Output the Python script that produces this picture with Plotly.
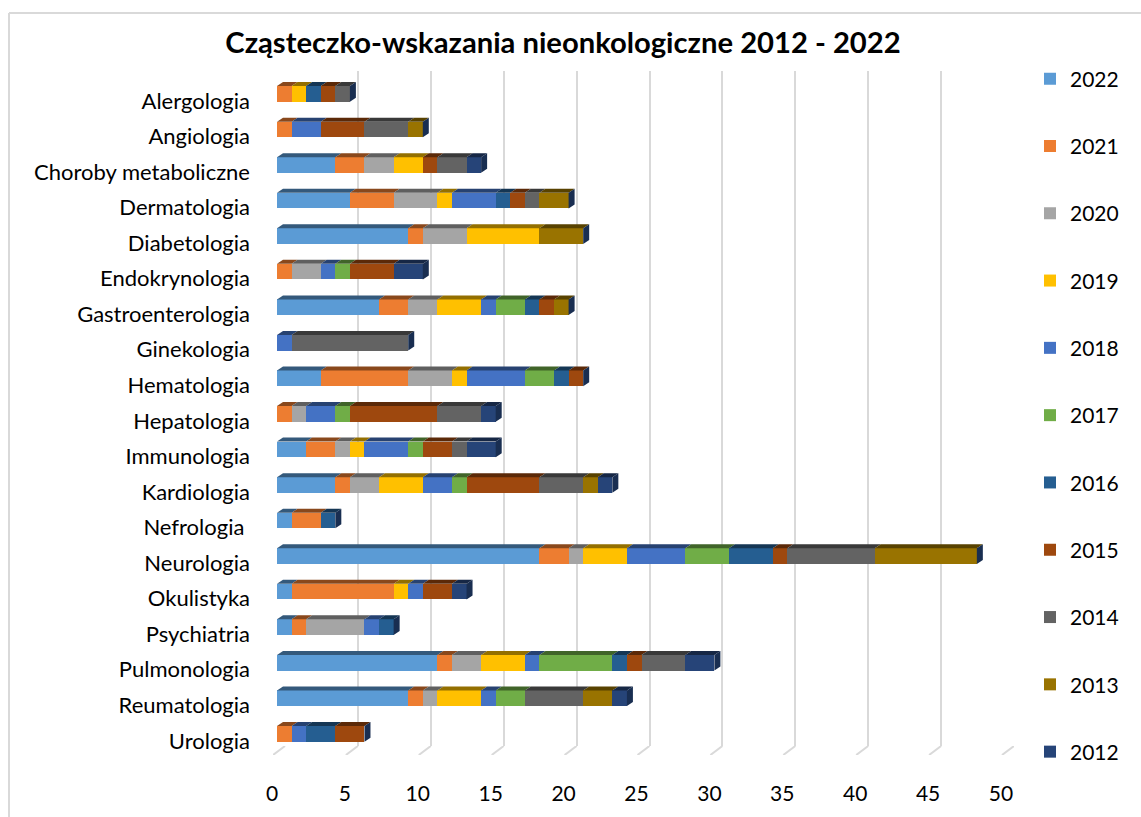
import plotly.graph_objects as go

categories = ["Alergologia", "Angiologia", "Choroby metaboliczne", "Dermatologia", "Diabetologia",
              "Endokrynologia", "Gastroenterologia", "Ginekologia", "Hematologia", "Hepatologia",
              "Immunologia", "Kardiologia", "Nefrologia ", "Neurologia", "Okulistyka", "Psychiatria",
              "Pulmonologia", "Reumatologia", "Urologia"]

y2022 = [0, 0, 4, 5, 9, 0, 7, 0, 3, 0, 2, 4, 1, 18, 1, 1, 11, 9, 0]
y2021 = [1, 1, 2, 3, 1, 1, 2, 0, 6, 1, 2, 1, 2, 2, 7, 1, 1, 1, 1]
y2020 = [0, 0, 2, 3, 3, 2, 2, 0, 3, 1, 1, 2, 0, 1, 0, 4, 2, 1, 0]
y2019 = [1, 0, 2, 1, 5, 0, 3, 0, 1, 0, 1, 3, 0, 3, 1, 0, 3, 3, 0]
y2018 = [0, 2, 0, 3, 0, 1, 1, 1, 4, 2, 3, 2, 0, 4, 1, 1, 1, 1, 1]
y2017 = [0, 0, 0, 0, 0, 1, 2, 0, 2, 1, 1, 1, 0, 3, 0, 0, 5, 2, 0]
y2016 = [1, 0, 0, 1, 0, 0, 1, 0, 1, 0, 0, 0, 1, 3, 0, 1, 1, 0, 2]
y2015 = [1, 3, 1, 1, 0, 3, 1, 0, 1, 6, 2, 5, 0, 1, 2, 0, 1, 0, 2]
y2014 = [1, 3, 2, 1, 0, 0, 0, 8, 0, 3, 1, 3, 0, 6, 0, 0, 3, 4, 0]
y2013 = [0, 1, 0, 2, 3, 0, 1, 0, 0, 0, 0, 1, 0, 7, 0, 0, 0, 2, 0]
y2012 = [0, 0, 1, 0, 0, 2, 0, 0, 0, 1, 2, 1, 0, 0, 1, 0, 2, 1, 0]

years = ["2022", "2021", "2020", "2019", "2018", "2017", "2016", "2015", "2014", "2013", "2012"]
values = [y2022, y2021, y2020, y2019, y2018, y2017, y2016, y2015, y2014, y2013, y2012]
colors = ["#5B9BD5", "#ED7D31", "#A5A5A5", "#FFC000", "#4472C4", "#70AD47",
          "#255E91", "#9E480E", "#636363", "#997300", "#264478"]
tick_vals = [0, 5, 10, 15, 20, 25, 30, 35, 40, 45, 50]

W, H = 1141, 817
FONT = "Lato"
X0, UNIT = 277.0, 14.58
GRID_X0 = 285.0
WALL_TOP, WALL_BOTTOM = 71.0, 746.0
FLOOR_RUN, FLOOR_DROP = 12.0, 9.0
ROW0, PITCH = 93.9, 35.55
BAR = 0.44
DX, DY = 6 / UNIT, 4 / PITCH


def xdom(left):
    return [left / W, (left + 50 * UNIT) / W]


def ydom(top, bottom):
    return [1 - bottom / H, 1 - top / H]


def shade(hex_color, f=0.58):
    r, g, b = (int(hex_color[i:i + 2], 16) for i in (1, 3, 5))
    return f"rgb({int(r * f)},{int(g * f)},{int(b * f)})"


rows = list(range(len(categories)))
fig = go.Figure()

# invisible traces that bring the grid axis and the label axes into the page
fig.add_trace(go.Scatter(x=[0], y=[0], xaxis="x", yaxis="y", mode="markers", opacity=0,
                         showlegend=False, hoverinfo="skip"))
fig.add_trace(go.Scatter(x=[0], y=[0], xaxis="x3", yaxis="y3", mode="markers", opacity=0,
                         showlegend=False, hoverinfo="skip"))

# front faces
for year, vals, col in zip(years, values, colors):
    fig.add_trace(go.Bar(name=year, y=rows, x=vals, orientation="h", width=BAR,
                         xaxis="x2", yaxis="y2",
                         marker=dict(color=col, line=dict(width=0)),
                         legendgroup=year))

# top faces, right caps
running = [0] * len(rows)
for year, vals, col in zip(years, values, colors):
    px, py = [], []
    for i, v in enumerate(vals):
        if v > 0:
            a, b = running[i], running[i] + v
            t = i - BAR / 2
            px += [a, b, b + DX, a + DX, a, None]
            py += [t, t, t - DY, t - DY, t, None]
        running[i] += v
    fig.add_trace(go.Scatter(x=px, y=py, xaxis="x2", yaxis="y2", mode="lines", fill="toself",
                             fillcolor=shade(col), line=dict(width=0), showlegend=False, hoverinfo="skip"))
px, py = [], []
for i, tot in enumerate(running):
    t, b = i - BAR / 2, i + BAR / 2
    px += [tot, tot + DX, tot + DX, tot, tot, None]
    py += [t, t - DY, b - DY, b, t, None]
fig.add_trace(go.Scatter(x=px, y=py, xaxis="x2", yaxis="y2", mode="lines", fill="toself",
                         fillcolor=shade(colors[-1], 0.68), line=dict(width=0),
                         showlegend=False, hoverinfo="skip"))

# floor ticks at the foot of the back wall, in a thin strip of their own
floor_x, floor_y = [], []
for v in tick_vals:
    floor_x += [v, v - FLOOR_RUN / UNIT, None]
    floor_y += [0, 1, None]
fig.add_trace(go.Scatter(x=floor_x, y=floor_y, xaxis="x4", yaxis="y4", mode="lines", cliponaxis=False,
                         line=dict(color="#D9D9D9", width=2), showlegend=False, hoverinfo="skip"))

# chart frame
shapes = [
    dict(type="line", xref="paper", yref="paper", x0=9 / W, x1=9 / W, y0=0, y1=1 - 13 / H,
         line=dict(color="#D9D9D9", width=2)),
    dict(type="line", xref="paper", yref="paper", x0=9 / W, x1=1, y0=1 - 13 / H, y1=1 - 13 / H,
         line=dict(color="#D9D9D9", width=2)),
]

fig.update_layout(
    width=W, height=H, margin=dict(l=0, r=0, t=0, b=0, autoexpand=False),
    paper_bgcolor="white", plot_bgcolor="rgba(0,0,0,0)",
    barmode="stack", font=dict(family=FONT, color="#000000", size=21),
    title=dict(text="<b>Cząsteczko-wskazania nieonkologiczne 2012 - 2022</b>", x=563 / W, xanchor="center",
               y=1 - 43 / H, yanchor="middle", font=dict(size=29.2, family=FONT, color="#000000")),
    xaxis=dict(domain=xdom(GRID_X0), range=[0, 50], anchor="y", tickvals=tick_vals, showticklabels=False,
               ticks="", showgrid=True, gridcolor="#D9D9D9", gridwidth=2, zeroline=False, showline=False),
    yaxis=dict(domain=ydom(WALL_TOP, WALL_BOTTOM), range=[0, 1], anchor="x", visible=False, showgrid=False),
    xaxis2=dict(domain=xdom(X0), range=[0, 50], visible=False, anchor="y2"),
    yaxis2=dict(domain=ydom(ROW0 - PITCH / 2, ROW0 + PITCH * 18.5), range=[18.5, -0.5], visible=False,
                anchor="x2"),
    xaxis3=dict(domain=xdom(272), range=[0, 50], anchor="free", position=1 - 755 / H,
                tickvals=tick_vals, ticks="outside", ticklen=20, tickcolor="rgba(0,0,0,0)",
                showgrid=False, zeroline=False, showline=False, tickfont=dict(size=21)),
    yaxis3=dict(domain=ydom(ROW0 + 7 - PITCH / 2, ROW0 + 7 + PITCH * 18.5), range=[18.5, -0.5],
                anchor="free", position=250 / W, tickvals=rows, ticktext=categories,
                ticks="", showgrid=False, zeroline=False, showline=False, tickfont=dict(size=22)),
    xaxis4=dict(domain=[(GRID_X0 - FLOOR_RUN) / W, (GRID_X0 + 50 * UNIT) / W],
                range=[-FLOOR_RUN / UNIT, 50], visible=False, anchor="y4"),
    yaxis4=dict(domain=ydom(WALL_BOTTOM, WALL_BOTTOM + FLOOR_DROP), range=[1, 0], visible=False, anchor="x4"),
    legend=dict(x=1030 / W, xanchor="left", y=1 - 58.5 / H, yanchor="top", traceorder="grouped",
                tracegroupgap=37, font=dict(size=21), bgcolor="rgba(0,0,0,0)", itemclick=False),
    shapes=shapes, showlegend=True,
)

fig.write_html("out.html", config=dict(displayModeBar=False),
               post_script="document.body.style.margin='0';")
